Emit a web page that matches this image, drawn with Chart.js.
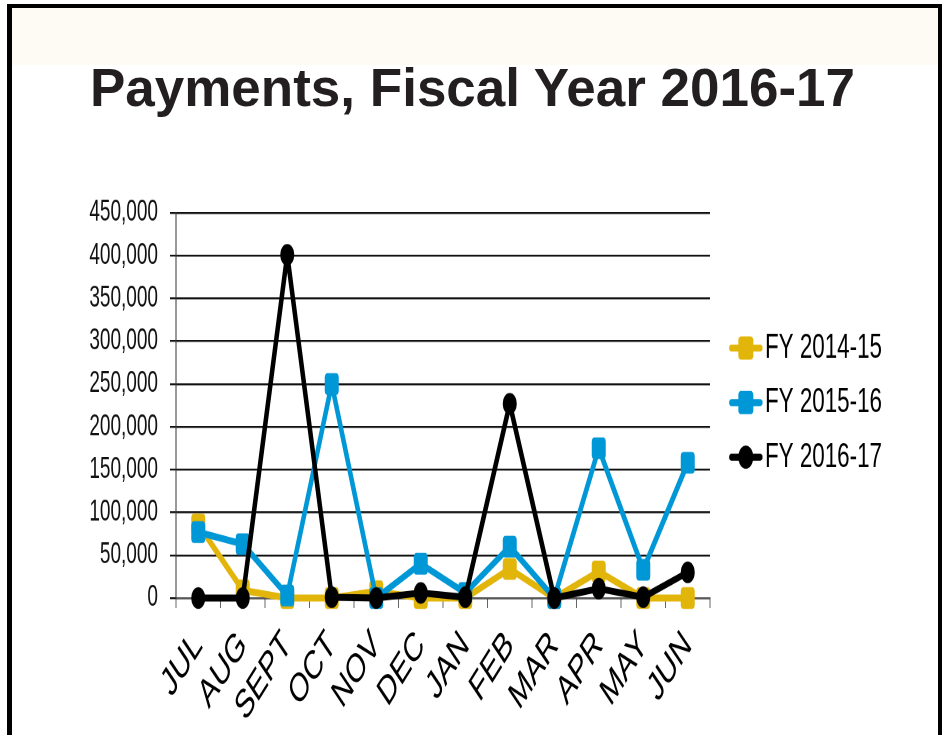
<!DOCTYPE html>
<html><head><meta charset="utf-8">
<script src="https://cdn.jsdelivr.net/npm/chart.js@4.4.1/dist/chart.umd.min.js"></script>
<style>
html,body{margin:0;padding:0;background:#fff;width:945px;height:735px;overflow:hidden;}
#frame{position:absolute;left:7px;top:4px;width:926px;height:800px;border-left:5px solid #000;border-top:4px solid #000;border-right:4px solid #000;}
#band{position:absolute;left:0;top:0;width:926px;height:57px;background:#fdfbf3;}
#title{position:absolute;left:0;top:58px;width:945px;text-align:center;font:bold 53px "Liberation Sans",Arial,sans-serif;line-height:60px;color:#231f20;white-space:nowrap;}
#wrap{position:absolute;left:0;top:140px;width:945px;height:384px;transform:scaleY(1.55);transform-origin:0 0;}
</style>
</head><body>
<div id="frame"><div id="band"></div></div>
<div id="title">Payments, Fiscal Year 2016-17</div>
<div id="wrap"><canvas id="c"></canvas></div>
<script>
const months = ['JUL','AUG','SEPT','OCT','NOV','DEC','JAN','FEB','MAR','APR','MAY','JUN'];
const seriesNames = ['FY 2014-15','FY 2015-16','FY 2016-17'];
const fy1415 = [86000, 9000, 0, 0, 8000, 0, 0, 34000, 0, 31000, 0, 0];
const fy1516 = [77000, 63000, 3000, 250000, 0, 40000, 6000, 60000, 0, 175000, 33000, 158000];
const fy1617 = [0, 0, 401000, 1000, 0, 6000, 1000, 227000, 0, 11000, 1000, 30000];
const yTicksMin = 0, yTicksMax = 450000, yTickStep = 50000;

const colors = ['#e2b50a', '#0097d7', '#000000'];
const shapes = ['rect', 'rect', 'circle'];
const FONT = '"Liberation Sans", Arial, sans-serif';

function drawMarker(ctx, shape, cx, cy, size, color) {
  ctx.fillStyle = color;
  ctx.beginPath();
  if (shape === 'circle') {
    ctx.arc(cx, cy, size / 2, 0, Math.PI * 2);
  } else {
    const r = 2.5, x = cx - size / 2, y = cy - size / 2;
    ctx.moveTo(x + r, y);
    ctx.arcTo(x + size, y, x + size, y + size, r);
    ctx.arcTo(x + size, y + size, x, y + size, r);
    ctx.arcTo(x, y + size, x, y, r);
    ctx.arcTo(x, y, x + size, y, r);
    ctx.closePath();
  }
  ctx.fill();
}
function legendCanvas(color, shape, k) {
  const W = 48, H = 16, cv = document.createElement('canvas');
  cv.width = W * k; cv.height = H * k;
  const ctx = cv.getContext('2d');
  ctx.scale(k, k);
  ctx.strokeStyle = color; ctx.lineWidth = 4.5; ctx.lineCap = 'round';
  ctx.beginPath(); ctx.moveTo(17, 8); ctx.lineTo(46, 8); ctx.stroke();
  drawMarker(ctx, shape, 31.5, 8, 15, color);
  return cv;
}
function markerCanvas(color, shape, k) {
  const S = 15, cv = document.createElement('canvas');
  cv.width = S * k; cv.height = S * k;
  const ctx = cv.getContext('2d');
  ctx.scale(k, k);
  drawMarker(ctx, shape, S / 2, S / 2, 14, color);
  return cv;
}
const legendImgs = colors.map((c, i) => legendCanvas(c, shapes[i], 1));

const values = [fy1415, fy1516, fy1617];
const datasets = values.map((v, i) => ({
  label: seriesNames[i],
  data: v,
  borderColor: colors[i],
  backgroundColor: colors[i],
  borderWidth: 4.5,
  tension: 0,
  borderJoinStyle: 'round',
  borderCapStyle: 'round',
  pointStyle: shapes[i],
  pointRadius: shapes[i] === 'rect' ? 9.9 : 7,
  pointBorderWidth: 0,
  pointBackgroundColor: colors[i],
  clip: false,
  order: 3 - i
}));

const chart = new Chart(document.getElementById('c'), {
  type: 'line',
  data: { labels: months, datasets },
  options: {
    responsive: true,
    maintainAspectRatio: false,
    devicePixelRatio: 2,
    animation: false,
    layout: { padding: { top: 47, right: 53, bottom: 0, left: 0 } },
    plugins: {
      title: { display: false },
      tooltip: { enabled: false },
      legend: {
        position: 'right',
        align: 'start',
        title: { display: true, text: ' ', font: { size: 1 }, padding: { top: 62, bottom: 0 } },
        labels: {
          usePointStyle: true,
          pointStyleWidth: 31,
          padding: 12.8,
          color: '#000',
          font: { family: FONT, size: 22.4 },
          sort: (a, b) => a.datasetIndex - b.datasetIndex,
          generateLabels: (ch) => Chart.defaults.plugins.legend.labels.generateLabels(ch)
            .map(l => Object.assign(l, { pointStyle: legendImgs[l.datasetIndex] }))
        }
      }
    },
    scales: {
      x: {
        offset: true,
        grid: { display: true, drawOnChartArea: false, drawTicks: true, tickLength: 6.5, offset: true, color: '#666', lineWidth: 1 },
        border: { display: true, color: '#555', width: 1 },
        ticks: { color: '#000', font: { family: FONT, size: 26 }, minRotation: 46, maxRotation: 46, padding: 9, autoSkip: false },
        afterFit: (s) => { s.height = 88.5; }
      },
      y: {
        min: yTicksMin, max: yTicksMax,
        grid: { color: '#111', lineWidth: 1.2, tickLength: 6, drawTicks: true },
        border: { display: true, color: '#333', width: 1 },
        ticks: { stepSize: yTickStep, color: '#111', padding: 12, font: { family: FONT, size: 19 },
          callback: (v) => Number(v).toLocaleString('en-US') },
        afterFit: (s) => { s.width = 176; }
      }
    }
  }
});

function toImg(cv, w, h) {
  return new Promise(res => {
    const im = new Image();
    im.width = w; im.height = h;
    im.onload = () => res(im);
    im.onerror = () => res(null);
    im.src = cv.toDataURL();
  });
}
Promise.all([
  ...colors.map((c, i) => toImg(legendCanvas(c, shapes[i], 3), 48, 16)),
  ...colors.map((c, i) => toImg(markerCanvas(c, shapes[i], 3), 15, 15))
]).then(imgs => {
  if (imgs.some(x => !x)) return;
  for (let i = 0; i < 3; i++) {
    legendImgs[i] = imgs[i];
    chart.data.datasets[i].pointStyle = imgs[3 + i];
  }
  chart.update('none');
});
</script>
</body></html>
